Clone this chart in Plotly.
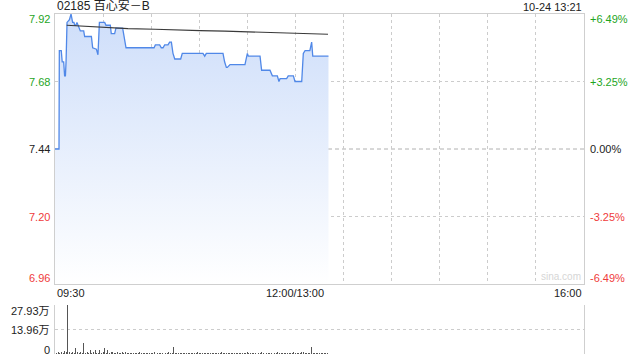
import plotly.graph_objects as go

# ---------------- data ----------------
title_text = "02185 百心安－B"
date_text = "10-24 13:21"
prev_close = 7.44

# trading-minute index (0 = 09:30, 150 = 12:00/13:00, 330 = 16:00)
price_minutes = [0, 2.5, 2.7, 3.9, 4.5, 5.4, 6.0, 6.5, 6.9, 7.5, 9.0, 10.0, 11.0, 11.8,
                 12.3, 13.0, 13.7, 14.5, 15.8, 17.9, 18.5, 22.7, 23.5, 25.8, 26.8, 27.7,
                 31.0, 31.8, 34.5, 35.1, 37.2, 38.0, 42.2, 44.3, 61.8, 62.6, 65.3, 66.3,
                 67.4, 68.4, 70.5, 71.5, 72.6, 73.6, 74.7, 78.4, 79.4, 92.3, 93.4, 94.4,
                 104.8, 105.8, 106.9, 107.5, 109.2, 118.5, 119.6, 120.0, 120.6, 127.9,
                 128.9, 134.1, 135.6, 138.7, 139.7, 140.4, 144.5, 145.5, 148.7, 149.7,
                 153.9, 154.9, 156.0, 159.0, 160.1, 160.8, 170.6]
price_values = [7.44, 7.44, 7.79, 7.79, 7.75, 7.75, 7.70, 7.70, 7.75, 7.89, 7.90, 7.92, 7.89, 7.89,
                7.88, 7.88, 7.89, 7.88, 7.86, 7.86, 7.84, 7.84, 7.80, 7.795, 7.775, 7.89,
                7.89, 7.88, 7.88, 7.85, 7.85, 7.87, 7.87, 7.80, 7.80, 7.81, 7.81, 7.80,
                7.80, 7.81, 7.81, 7.82, 7.82, 7.78, 7.76, 7.76, 7.78, 7.78, 7.77, 7.78,
                7.78, 7.75, 7.73, 7.73, 7.74, 7.74, 7.77, 7.78, 7.77, 7.77,
                7.72, 7.72, 7.70, 7.70, 7.68, 7.69, 7.69, 7.70, 7.70, 7.68,
                7.68, 7.78, 7.79, 7.79, 7.82, 7.77, 7.77]

avg_minutes = [7.3, 20, 40, 45.5, 62.4, 75.5, 90.5, 106, 121.6, 145.4, 154.7, 170.3]
avg_values = [7.880, 7.876, 7.872, 7.868, 7.866, 7.863, 7.861, 7.859, 7.856, 7.853, 7.851, 7.848]

# volume per minute (万股), minutes 0..170
volume_values = [
    0.5, 0.3, 1.0, 0.6, 1.2, 0.8, 1.5, 0.9, 27.9, 1.1,
    0.7, 1.3, 0.6, 3.6, 0.9, 0.6, 1.1, 0.8, 6.3, 0.5,
    1.0, 0.7, 2.4, 0.5, 1.2, 2.0, 0.8, 0.6, 2.0, 0.7,
    0.9, 3.4, 0.6, 2.0, 0.5, 0.9, 1.2, 0.4, 0.8, 1.1,
    0.6, 0.4, 0.9, 0.5, 1.0, 0.7, 0.4, 0.6, 0.8, 0.5,
    0.7, 0.4, 0.6, 0.9, 0.5, 0.3, 0.7, 0.6, 0.4, 0.8,
    0.5, 0.6, 0.9, 0.4, 0.7, 0.5, 0.6, 0.8, 0.4, 0.5,
    0.6, 0.9, 0.5, 0.7, 3.8, 0.6, 0.4, 0.8, 0.5, 0.7,
    0.5, 0.6, 0.4, 0.8, 0.6, 0.5, 0.7, 0.4, 0.6, 0.9,
    0.5, 0.7, 0.4, 0.6, 0.8, 0.5, 0.4, 0.7, 0.6, 0.5,
    0.8, 0.4, 0.6, 0.5, 0.9, 0.7, 0.5, 0.6, 0.4, 0.8,
    0.5, 0.6, 0.7, 0.4, 0.6, 0.5, 0.8, 0.6, 0.4, 0.7,
    0.9, 0.5, 0.6, 0.4, 0.7, 0.5, 0.6, 0.8, 0.5, 0.9,
    0.6, 0.4, 0.7, 0.5, 0.6, 0.8, 0.4, 0.6, 0.5, 0.9,
    0.7, 0.5, 0.6, 0.4, 0.8, 0.5, 0.6, 0.7, 0.5, 1.0,
    0.8, 0.6, 0.5, 0.7, 1.1, 0.9, 0.6, 0.5, 0.7, 0.8,
    3.8, 0.7, 0.5, 0.6, 0.8, 0.4, 0.6, 0.5, 0.7, 0.6,
    0.5,
]
volume_minutes = list(range(len(volume_values)))

price_ticks = [7.92, 7.68, 7.44, 7.20, 6.96]
price_tick_text = ["7.92", "7.68", "7.44", "7.20", "6.96"]
pct_tick_text = ["+6.49%", "+3.25%", "0.00%", "-3.25%", "-6.49%"]
vol_ticks = [27.93, 13.96, 0]
vol_tick_text = ["27.93万", "13.96万", "0"]
time_ticks = [0, 150, 330]
time_tick_text = ["09:30", "12:00/13:00", "16:00"]
grid_minutes = list(range(30, 330, 30))

# ---------------- styles ----------------
GREEN = "#1ea51e"
RED = "#ef3b3b"
BLACK = "#222222"
FONT = "Liberation Sans, Arial, Noto Sans CJK SC, sans-serif"
BORDER = "#cfcfcf"
GRID = "#cccccc"

P_DOMAIN = [0.2059, 1.0]
V_DOMAIN = [0.0, 0.1441]

fig = go.Figure()

fig.add_trace(go.Scatter(
    x=price_minutes, y=price_values, mode="lines",
    line=dict(color="#5088e8", width=1.3),
    fill="tozeroy",
    fillgradient=dict(type="vertical", start=6.96, stop=7.92,
                      colorscale=[[0, "rgba(255,255,255,1)"], [1, "rgba(206,222,250,1)"]]),
    hoverinfo="skip", xaxis="x", yaxis="y", showlegend=False,
))
fig.add_trace(go.Scatter(
    x=avg_minutes, y=avg_values, mode="lines",
    line=dict(color="#3a3a3a", width=1.1),
    hoverinfo="skip", xaxis="x", yaxis="y", showlegend=False,
))
fig.add_trace(go.Bar(
    x=volume_minutes, y=volume_values, width=0.6,
    marker=dict(color="#555555", line=dict(width=0)),
    hoverinfo="skip", xaxis="x2", yaxis="y2", showlegend=False,
))

# previous close line
fig.add_shape(type="line", xref="x", yref="y", x0=0, x1=330, y0=prev_close, y1=prev_close,
              line=dict(color="#b0b0b0", width=1, dash="4px,3px"), layer="below")

fig.update_layout(
    width=640, height=360,
    margin=dict(l=55, r=56, t=14, b=6),
    paper_bgcolor="white", plot_bgcolor="white",
    font=dict(family=FONT, size=11, color=BLACK),
    bargap=0,
    xaxis=dict(domain=[0, 1], range=[0, 330], tickvals=grid_minutes, showticklabels=False,
               showgrid=True, gridcolor=GRID, griddash="dot", gridwidth=1,
               showline=True, linecolor=BORDER, mirror=True, zeroline=False, ticks="",
               fixedrange=True),
    yaxis=dict(domain=P_DOMAIN, range=[6.96, 7.92], tickvals=[7.20, 7.68], showticklabels=False,
               showgrid=True, gridcolor=GRID, griddash="dot", gridwidth=1,
               showline=True, linecolor=BORDER, mirror=True, zeroline=False, ticks="",
               fixedrange=True),
    xaxis2=dict(domain=[0, 1], range=[0, 330], anchor="y2", showticklabels=False,
                showgrid=False, showline=False, zeroline=False, ticks="", fixedrange=True),
    yaxis2=dict(domain=V_DOMAIN, range=[0, 27.93], anchor="x2", tickvals=vol_ticks,
                showticklabels=False, showgrid=True, gridcolor=GRID, griddash="dot",
                gridwidth=1, showline=True, linecolor=BORDER, mirror=True, zeroline=False,
                ticks="", fixedrange=True),
)

ann = []
# title & date
ann.append(dict(text=title_text, xref="paper", yref="paper", x=0, y=1, xanchor="left",
                yanchor="bottom", yshift=-1, showarrow=False,
                font=dict(size=12, color=BLACK, family=FONT)))
ann.append(dict(text=date_text, xref="paper", yref="paper", x=1, y=1, xanchor="right",
                yanchor="bottom", yshift=-1, showarrow=False,
                font=dict(size=11, color=BLACK, family=FONT)))

colors = [GREEN, GREEN, BLACK, RED, RED]
shifts = [-5, 0, 0, 0, 6]
for v, t, p, c, s in zip(price_ticks, price_tick_text, pct_tick_text, colors, shifts):
    ann.append(dict(text=t, xref="paper", yref="y", x=0, y=v, xanchor="right", yanchor="middle",
                    xshift=-3, yshift=s, showarrow=False, font=dict(size=11, color=c)))
    ann.append(dict(text=p, xref="paper", yref="y", x=1, y=v, xanchor="left", yanchor="middle",
                    xshift=4, yshift=s, showarrow=False, font=dict(size=11, color=c)))

vshifts = [-6, 0, 4]
for v, t, s in zip(vol_ticks, vol_tick_text, vshifts):
    ann.append(dict(text=t, xref="paper", yref="y2", x=0, y=v, xanchor="right", yanchor="middle",
                    xshift=-3, yshift=s, showarrow=False, font=dict(size=11, color=BLACK)))

anchors = ["left", "center", "right"]
for v, t, a in zip(time_ticks, time_tick_text, anchors):
    ann.append(dict(text=t, xref="x", yref="paper", x=v, y=P_DOMAIN[0], xanchor=a,
                    yanchor="top", yshift=-1, showarrow=False,
                    font=dict(size=11, color=BLACK)))

ann.append(dict(text="sina.com", xref="paper", yref="paper", x=1, y=P_DOMAIN[0],
                xanchor="right", yanchor="bottom", xshift=-1, yshift=0, showarrow=False,
                font=dict(size=10, color="#d6d6d6")))

fig.update_layout(annotations=ann)

fig.write_html("out.html", config={"displayModeBar": False, "staticPlot": True})
